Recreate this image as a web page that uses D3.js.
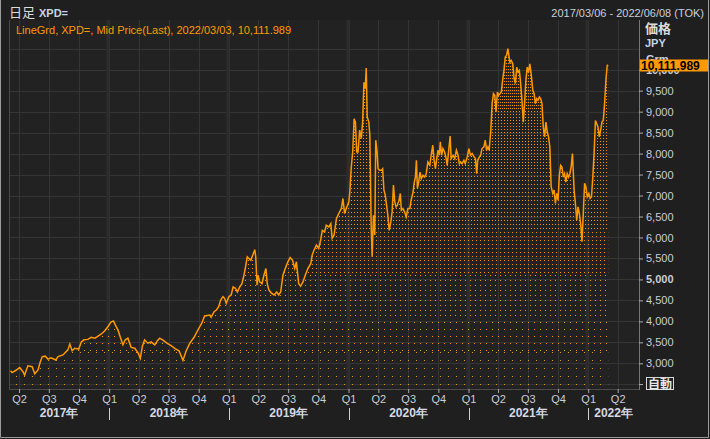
<!DOCTYPE html>
<html>
<head>
<meta charset="utf-8">
<script src="https://cdn.jsdelivr.net/npm/d3@7"></script>
<style>
  body { margin: 0; background: #1f1f1f; }
  svg { display: block; }
  text { font-family: "Liberation Sans", Arial, sans-serif; }
  .cjk { font-family: "Noto Sans CJK JP", "Liberation Sans", sans-serif; }
</style>
</head>
<body>
<svg id="chart" width="710" height="439"></svg>
<script>
// XPD= daily mid price (JPY / gram)
const dates = [
  // 2017
  "2017-03-06", "2017-03-11", "2017-03-24", "2017-04-03", "2017-04-13", "2017-04-18", "2017-04-28",
  "2017-05-11", "2017-05-19", "2017-05-29", "2017-06-05", "2017-06-11", "2017-06-20", "2017-06-28",
  "2017-07-08", "2017-07-22", "2017-07-29", "2017-08-13", "2017-08-28", "2017-09-03", "2017-09-10",
  "2017-09-18", "2017-09-30", "2017-10-08", "2017-10-16", "2017-10-28", "2017-11-07", "2017-11-18",
  "2017-11-28", "2017-12-08", "2017-12-18", "2017-12-28",
  // 2018
  "2018-01-06", "2018-01-14", "2018-01-20", "2018-01-28", "2018-02-04", "2018-02-12", "2018-02-19",
  "2018-02-27", "2018-03-09", "2018-03-20", "2018-03-30", "2018-04-06", "2018-04-12", "2018-04-19",
  "2018-04-29", "2018-05-09", "2018-05-20", "2018-05-28", "2018-06-04", "2018-06-14", "2018-06-26",
  "2018-07-09", "2018-07-21", "2018-08-02", "2018-08-14", "2018-08-23", "2018-09-04", "2018-09-17",
  "2018-09-29", "2018-10-10", "2018-10-19", "2018-11-04", "2018-11-08", "2018-11-17", "2018-11-24",
  "2018-12-01", "2018-12-07", "2018-12-14", "2018-12-19", "2018-12-24",
  // 2019
  "2019-01-01", "2019-01-08", "2019-01-14", "2019-01-21", "2019-01-27", "2019-02-03", "2019-02-10",
  "2019-02-16", "2019-02-20", "2019-02-26", "2019-03-03", "2019-03-09", "2019-03-15", "2019-03-21",
  "2019-03-24", "2019-03-28", "2019-03-31", "2019-04-05", "2019-04-12", "2019-04-18", "2019-04-24",
  "2019-04-28", "2019-05-03", "2019-05-10", "2019-05-19", "2019-05-27", "2019-06-02", "2019-06-08",
  "2019-06-15", "2019-06-22", "2019-06-30", "2019-07-07", "2019-07-14", "2019-07-21", "2019-07-26",
  "2019-08-02", "2019-08-08", "2019-08-15", "2019-08-22", "2019-08-30", "2019-09-08", "2019-09-12",
  "2019-09-18", "2019-09-25", "2019-10-02", "2019-10-08", "2019-10-13", "2019-10-20", "2019-10-25",
  "2019-11-02", "2019-11-08", "2019-11-12", "2019-11-18", "2019-11-25", "2019-12-02", "2019-12-10",
  "2019-12-15", "2019-12-20", "2019-12-25",
  // 2020
  "2020-01-02", "2020-01-05", "2020-01-09", "2020-01-14", "2020-01-18", "2020-01-22", "2020-01-26",
  "2020-01-30", "2020-02-04", "2020-02-09", "2020-02-13", "2020-02-17", "2020-02-21", "2020-02-24",
  "2020-02-27", "2020-03-03", "2020-03-06", "2020-03-10", "2020-03-13", "2020-03-17", "2020-03-21",
  "2020-03-24", "2020-03-28", "2020-03-31", "2020-04-05", "2020-04-10", "2020-04-14", "2020-04-18",
  "2020-04-22", "2020-04-26", "2020-04-30", "2020-05-04", "2020-05-09", "2020-05-13", "2020-05-17",
  "2020-05-21", "2020-05-25", "2020-05-29", "2020-06-03", "2020-06-07", "2020-06-10", "2020-06-15",
  "2020-06-20", "2020-06-25", "2020-06-30", "2020-07-06", "2020-07-10", "2020-07-16", "2020-07-19",
  "2020-07-23", "2020-07-26", "2020-07-29", "2020-08-02", "2020-08-06", "2020-08-10", "2020-08-15",
  "2020-08-20", "2020-08-25", "2020-08-30", "2020-09-05", "2020-09-09", "2020-09-14", "2020-09-18",
  "2020-09-22", "2020-09-26", "2020-09-30", "2020-10-04", "2020-10-07", "2020-10-11", "2020-10-15",
  "2020-10-20", "2020-10-25", "2020-10-28", "2020-11-01", "2020-11-06", "2020-11-09", "2020-11-15",
  "2020-11-20", "2020-11-25", "2020-11-30", "2020-12-04", "2020-12-08", "2020-12-12", "2020-12-18",
  "2020-12-22", "2020-12-28",
  // 2021
  "2021-01-02", "2021-01-07", "2021-01-12", "2021-01-18", "2021-01-22", "2021-01-26", "2021-01-29",
  "2021-02-03", "2021-02-07", "2021-02-11", "2021-02-17", "2021-02-21", "2021-02-25", "2021-03-01",
  "2021-03-05", "2021-03-10", "2021-03-14", "2021-03-18", "2021-03-22", "2021-03-26", "2021-03-30",
  "2021-04-03", "2021-04-07", "2021-04-11", "2021-04-15", "2021-04-19", "2021-04-23", "2021-04-27",
  "2021-05-01", "2021-05-04", "2021-05-07", "2021-05-11", "2021-05-16", "2021-05-20", "2021-05-24",
  "2021-05-28", "2021-06-01", "2021-06-05", "2021-06-09", "2021-06-13", "2021-06-17", "2021-06-21",
  "2021-06-25", "2021-06-29", "2021-07-03", "2021-07-07", "2021-07-11", "2021-07-16", "2021-07-20",
  "2021-07-24", "2021-07-28", "2021-08-01", "2021-08-05", "2021-08-09", "2021-08-13", "2021-08-17",
  "2021-08-21", "2021-08-25", "2021-08-29", "2021-09-02", "2021-09-06", "2021-09-10", "2021-09-15",
  "2021-09-19", "2021-09-23", "2021-09-27", "2021-10-01", "2021-10-05", "2021-10-09", "2021-10-13",
  "2021-10-17", "2021-10-21", "2021-10-25", "2021-10-29", "2021-11-02", "2021-11-06", "2021-11-10",
  "2021-11-14", "2021-11-19", "2021-11-23", "2021-11-27", "2021-12-01", "2021-12-05", "2021-12-09",
  "2021-12-13", "2021-12-17", "2021-12-21", "2021-12-25", "2021-12-29",
  // 2022
  "2022-01-03", "2022-01-07", "2022-01-11", "2022-01-15", "2022-01-19", "2022-01-23", "2022-01-27",
  "2022-01-31", "2022-02-04", "2022-02-08", "2022-02-12", "2022-02-16", "2022-02-20", "2022-02-24",
  "2022-02-28", "2022-03-03"
];

const prices = [
  // 2017
  2820, 2780, 2840, 2900, 2800, 2720, 2940,
  2920, 2750, 2840, 3040, 3160, 3170, 3100,
  3130, 3080, 3160, 3200, 3320, 3460, 3300,
  3360, 3340, 3510, 3560, 3570, 3620, 3600,
  3650, 3700, 3770, 3870,
  // 2018
  3980, 4010, 3910, 3790, 3620, 3440, 3560,
  3600, 3380, 3360, 3250, 3120, 3400, 3560,
  3480, 3510, 3440, 3540, 3600, 3550, 3480,
  3420, 3350, 3300, 3070, 3280, 3480, 3620,
  3800, 3950, 4130, 4150, 4100, 4230, 4270,
  4350, 4510, 4590, 4550, 4430,
  // 2019
  4590, 4630, 4820, 4790, 4700, 4820, 4900,
  5100, 5260, 5540, 5500, 5460, 5580, 5710,
  5540, 4860, 5100, 4940, 4900, 5100, 5260,
  4900, 4750, 4680, 4630, 4700, 4630, 4700,
  5100, 5260, 5420, 5520, 5460, 5260, 5420,
  4900, 4840, 4940, 5100, 5260, 5380, 5580,
  5700, 5820, 5740, 5940, 6170, 6130, 6290,
  6250, 6330, 5980, 6060, 6450, 6570, 6690,
  6930, 6570, 6690,
  // 2020
  6850, 7090, 7640, 8080, 8830, 8750, 8040,
  8040, 8560, 8360, 8750, 9700, 9550, 10040,
  8870, 8750, 8440, 6290, 5540, 6530, 6060,
  8320, 8040, 7640, 7600, 7600, 7640, 7130,
  7010, 6770, 6530, 6170, 6370, 6610, 7250,
  6850, 6730, 6770, 6890, 7050, 6650, 6690,
  6610, 6490, 6690, 6690, 6890, 7090, 7290,
  7440, 7840, 7170, 7320, 7560, 7400, 7480,
  7440, 7520, 7800, 7720, 7960, 8200, 7840,
  7640, 7880, 8080, 7960, 8280, 7960, 8120,
  8040, 7880, 7720, 8040, 8420, 7880, 7960,
  7880, 8080, 7960, 7760, 7800, 7760, 7840,
  7760, 7920,
  // 2021
  8120, 7960, 8000, 7920, 7880, 7520, 7840,
  7920, 7960, 8120, 8160, 8320, 8080, 8160,
  8080, 8560, 9190, 9430, 9390, 8990, 9470,
  9390, 9430, 9470, 9750, 9980, 10300, 10340,
  10500, 10340, 10180, 10220, 10140, 9790, 9670,
  10060, 9940, 9980, 9670, 9270, 8750, 9190,
  9750, 10060, 9940, 10140, 9900, 9510, 9430,
  9190, 9310, 9270, 9350, 9310, 9190, 8630,
  8400, 8750, 8520, 8400, 8160, 7210, 7050,
  7130, 6810, 7050, 6890, 7480, 7720, 7680,
  7440, 7520, 7320, 7520, 7440, 7520, 7680,
  8000, 7130, 6810, 6410, 6730, 6570, 6330,
  5900, 6570, 7290, 7210, 6970,
  // 2022
  7050, 6930, 6970, 7440, 8000, 8790, 8710,
  8630, 8400, 8560, 8750, 8790, 9190, 9750,
  10100, 10111.989
];

const rangeStart = "2017-03-06";
const rangeEnd = "2022-06-08";
const yTickValues = [3000, 3500, 4000, 4500, 5000, 5500, 6000, 6500, 7000, 7500, 8000, 8500, 9000, 9500, 10000];
const boldTicks = [5000, 10000];
const gridLevels = [2500, 3000, 3500, 4000, 4500, 5000, 5500, 6000, 6500, 7000, 7500, 8000, 8500, 9000, 9500, 10000, 10500];
const autoLevel = 2500;
const quarterLabels = ["Q1", "Q2", "Q3", "Q4"];
const years = [2017, 2018, 2019, 2020, 2021, 2022];
const yearSuffix = "年";
const legendText = "LineGrd, XPD=, Mid Price(Last), 2022/03/03, 10,111.989";
const lastLabel = "10,111.989";
const lastPrice = 10111.989;

const svg = d3.select("#chart");
const W = 710, H = 439;
const plot = { left: 9, right: 639, top: 20, bottom: 389 };
const orange = "#ff9900";
const parse = d3.timeParse("%Y-%m-%d");
const data = dates.map((d, i) => ({ date: parse(d), price: prices[i] }));

const x = d3.scaleTime()
  .domain([parse(rangeStart), parse(rangeEnd)])
  .range([10.5, 640]);
const y = d3.scaleLinear()
  .domain([3000, 10000])
  .range([363.3, 69.7]);

const defs = svg.append("defs");
defs.append("clipPath").attr("id", "plotClip")
  .append("rect")
  .attr("x", plot.left).attr("y", plot.top)
  .attr("width", plot.right - plot.left).attr("height", plot.bottom - plot.top);

// backgrounds
svg.append("rect").attr("width", W).attr("height", H).attr("fill", "#1f1f1f");
svg.append("rect")
  .attr("x", plot.left).attr("y", plot.top)
  .attr("width", plot.right - plot.left).attr("height", plot.bottom - plot.top)
  .attr("fill", "#222222");

// grid
const grid = svg.append("g").attr("clip-path", "url(#plotClip)");
grid.selectAll("line.h")
  .data(gridLevels)
  .join("line")
  .attr("class", "h")
  .attr("x1", plot.left).attr("x2", plot.right)
  .attr("y1", (d) => Math.round(y(d)) + 0.5)
  .attr("y2", (d) => Math.round(y(d)) + 0.5)
  .attr("stroke", "#353535");

const quarterTicks = x.ticks(d3.timeMonth.every(3));
const yearTicks = x.ticks(d3.timeYear);
grid.selectAll("line.q")
  .data(quarterTicks)
  .join("line")
  .attr("class", "q")
  .attr("x1", (d) => Math.round(x(d)) + 0.5)
  .attr("x2", (d) => Math.round(x(d)) + 0.5)
  .attr("y1", plot.top).attr("y2", plot.bottom)
  .attr("stroke", "#353535");
grid.selectAll("line.yr")
  .data(yearTicks)
  .join("line")
  .attr("class", "yr")
  .attr("x1", (d) => Math.round(x(d)) - 1)
  .attr("x2", (d) => Math.round(x(d)) - 1)
  .attr("y1", plot.top).attr("y2", plot.bottom)
  .attr("stroke", "#2c2c2c")
  .attr("stroke-width", 3);

// dotted fill under the line, denser near the top: [top, bottom, step x, step y]
const dotBands = [
  [plot.top, 110, 2, 3],
  [110, 170, 3, 3],
  [170, 230, 3, 4],
  [230, 275, 4, 4],
  [275, 320, 5, 5],
  [320, 352, 6, 7],
  [352, plot.bottom, 8, 8]
];
dotBands.forEach(([y0, y1, sx, sy], i) => {
  const p = defs.append("pattern")
    .attr("id", "dots" + i)
    .attr("patternUnits", "userSpaceOnUse")
    .attr("width", sx).attr("height", sy);
  p.append("rect").attr("width", 1).attr("height", 1).attr("fill", "#f59500");
});

const area = d3.area()
  .x((d) => x(d.date))
  .y0(plot.bottom)
  .y1((d) => y(d.price));
defs.append("clipPath").attr("id", "areaClip")
  .append("path").attr("d", area(data));

const dots = svg.append("g").attr("clip-path", "url(#areaClip)");
dotBands.forEach(([y0, y1], i) => {
  dots.append("rect")
    .attr("x", plot.left).attr("y", y0)
    .attr("width", plot.right - plot.left).attr("height", y1 - y0)
    .attr("fill", `url(#dots${i})`);
});

// price line
const line = d3.line()
  .x((d) => x(d.date))
  .y((d) => y(d.price));
svg.append("path")
  .datum(data)
  .attr("clip-path", "url(#plotClip)")
  .attr("d", line)
  .attr("fill", "none")
  .attr("stroke", orange)
  .attr("stroke-width", 1.5)
  .attr("stroke-linejoin", "miter");

// plot frame
svg.append("path")
  .attr("d", `M${plot.left + 0.5},${plot.top}V${plot.bottom + 0.5}H${plot.right}`)
  .attr("fill", "none")
  .attr("stroke", "#4a4a4a");
svg.append("line")
  .attr("x1", plot.right + 0.5).attr("x2", plot.right + 0.5)
  .attr("y1", plot.top).attr("y2", plot.bottom + 1)
  .attr("stroke", "#777");

// unit labels on the right
svg.append("text")
  .attr("class", "cjk")
  .attr("x", 645).attr("y", 33)
  .attr("font-size", 13)
  .attr("font-weight", "bold")
  .attr("fill", "#dcdcdc")
  .text("価格");
svg.append("text")
  .attr("x", 645).attr("y", 46.5)
  .attr("font-size", 11)
  .attr("font-weight", "bold")
  .attr("fill", "#c8d4e6")
  .text("JPY");
svg.append("text")
  .attr("x", 646).attr("y", 63)
  .attr("font-size", 11)
  .attr("font-weight", "bold")
  .attr("fill", "#c8d4e6")
  .text("Grm");

// right axis
const gy = svg.append("g")
  .attr("transform", `translate(${plot.right},0)`)
  .call(d3.axisRight(y).tickValues(yTickValues).tickSize(4).tickPadding(3).tickFormat(d3.format(",")));
gy.select(".domain").remove();
gy.selectAll(".tick line").attr("stroke", "#aaa");
gy.selectAll(".tick text")
  .attr("fill", "#c9ced8")
  .attr("font-size", 11)
  .attr("font-family", '"Liberation Sans", Arial, sans-serif')
  .attr("font-weight", (d) => (boldTicks.includes(d) ? "bold" : null));

// "自動" button at the bottom tick
const yAuto = Math.round(y(autoLevel)) + 0.5;
svg.append("line")
  .attr("x1", plot.right).attr("x2", plot.right + 4)
  .attr("y1", yAuto).attr("y2", yAuto)
  .attr("stroke", "#aaa");
svg.append("rect")
  .attr("x", 646.5).attr("y", yAuto - 7)
  .attr("width", 27).attr("height", 12)
  .attr("fill", "#1f1f1f")
  .attr("stroke", "#d8d8d8");
svg.append("text")
  .attr("class", "cjk")
  .attr("x", 660).attr("y", yAuto + 4)
  .attr("text-anchor", "middle")
  .attr("font-size", 12)
  .attr("font-weight", "bold")
  .attr("fill", "#e8e8e8")
  .text("自動");

// last price marker (drawn over the top tick label, as in the terminal)
const yLast = y(lastPrice);
svg.append("rect")
  .attr("x", 640).attr("y", Math.round(yLast) - 5.5)
  .attr("width", 68).attr("height", 12)
  .attr("fill", orange);
svg.append("text")
  .attr("x", 641).attr("y", Math.round(yLast) + 4.5)
  .attr("font-size", 12)
  .attr("font-weight", "bold")
  .attr("fill", "#000")
  .text(lastLabel);

// bottom axis: quarters
const gx = svg.append("g")
  .attr("transform", `translate(0,${plot.bottom})`)
  .call(d3.axisBottom(x).tickValues(quarterTicks).tickSize(4).tickPadding(2)
    .tickFormat((d) => quarterLabels[Math.floor(d.getMonth() / 3)]));
gx.select(".domain").remove();
gx.selectAll(".tick line").attr("stroke", "#aaa");
gx.selectAll(".tick text")
  .attr("fill", "#c9ced8")
  .attr("font-size", 11)
  .attr("font-family", '"Liberation Sans", Arial, sans-serif');

// year labels and separators
svg.selectAll("line.ysep")
  .data(yearTicks)
  .join("line")
  .attr("class", "ysep")
  .attr("x1", (d) => Math.round(x(d)) + 0.5)
  .attr("x2", (d) => Math.round(x(d)) + 0.5)
  .attr("y1", 408).attr("y2", 420)
  .attr("stroke", "#cfcfcf");
svg.selectAll("text.year")
  .data(years)
  .join("text")
  .attr("class", "year")
  .attr("x", (d) => {
    const a = Math.max(x(new Date(d, 0, 1)), plot.left);
    const b = Math.min(x(new Date(d + 1, 0, 1)), plot.right);
    return (a + b) / 2;
  })
  .attr("y", 417)
  .attr("text-anchor", "middle")
  .attr("font-size", 12)
  .attr("font-weight", "bold")
  .attr("fill", "#d4d9e2")
  .text((d) => d + yearSuffix);

// header
svg.append("text")
  .attr("class", "cjk")
  .attr("x", 9).attr("y", 16.5)
  .attr("font-size", 13)
  .attr("fill", "#dcdcdc")
  .text("日足");
svg.append("text")
  .attr("x", 39).attr("y", 16.5)
  .attr("font-size", 11)
  .attr("font-weight", "bold")
  .attr("fill", "#c8d4e6")
  .text("XPD=");
svg.append("text")
  .attr("x", 704).attr("y", 16.5)
  .attr("text-anchor", "end")
  .attr("font-size", 11)
  .attr("fill", "#c9d0dc")
  .text(`${rangeStart.replace(/-/g, "/")} - ${rangeEnd.replace(/-/g, "/")} (TOK)`);
svg.append("text")
  .attr("x", 16).attr("y", 33.5)
  .attr("font-size", 11)
  .attr("fill", orange)
  .text(legendText);

// window border
svg.append("path")
  .attr("d", `M0.5,0V${H - 1.5}H${W - 1.5}V0`)
  .attr("fill", "none")
  .attr("stroke", "#9a9a9a");
</script>
</body>
</html>
